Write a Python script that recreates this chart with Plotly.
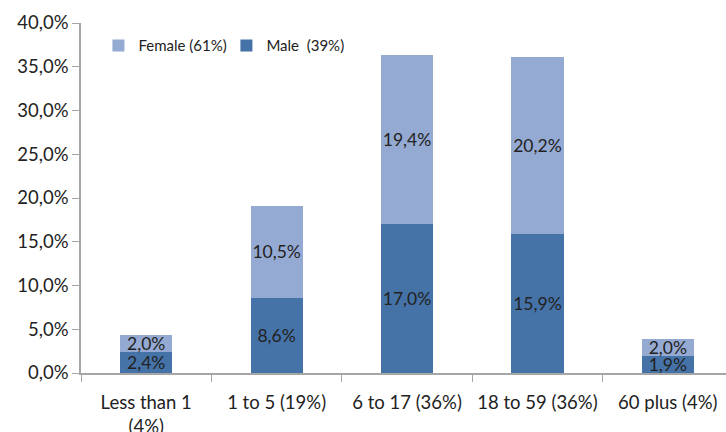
import plotly.graph_objects as go

categories = ["Less than 1<br>(4%)", "1 to 5 (19%)", "6 to 17 (36%)", "18 to 59 (36%)", "60 plus (4%)"]
male = [2.4, 8.6, 17.0, 15.9, 1.9]
female = [2.0, 10.5, 19.4, 20.2, 2.0]
tick_vals = [0, 5, 10, 15, 20, 25, 30, 35, 40]
tick_text = ["0,0%", "5,0%", "10,0%", "15,0%", "20,0%", "25,0%", "30,0%", "35,0%", "40,0%"]

def fmt(v):
    return f"{v:.1f}".replace(".", ",") + "%"

FONT = "Lato, 'Open Sans', sans-serif"
TXT = "#222222"

fig = go.Figure()
fig.add_trace(go.Bar(
    x=categories, y=male, name="Male  (39%)",
    marker=dict(color="#4572A7", line=dict(width=0)),
    text=[fmt(v) for v in male], textposition="inside", insidetextanchor="middle",
    textangle=0, constraintext="none",
    textfont=dict(family=FONT, size=17.5, color=TXT),
    legendrank=2, width=0.4,
))
fig.add_trace(go.Bar(
    x=categories, y=female, name="Female (61%)",
    marker=dict(color="#95AAD2", line=dict(width=0)),
    text=[fmt(v) for v in female], textposition="inside", insidetextanchor="middle",
    textangle=0, constraintext="none",
    textfont=dict(family=FONT, size=17.5, color=TXT),
    legendrank=1, width=0.4,
))

fig.update_layout(
    barmode="stack",
    width=726, height=432,
    margin=dict(l=81, r=0, t=23, b=59),
    paper_bgcolor="white", plot_bgcolor="white",
    font=dict(family=FONT, size=17, color=TXT),
    showlegend=True,
    legend=dict(orientation="h", x=0.027, y=0.982, xanchor="left", yanchor="top",
                traceorder="normal", entrywidth=83, entrywidthmode="pixels",
                font=dict(family=FONT, size=15, color=TXT),
                bgcolor="rgba(0,0,0,0)", itemwidth=30, tracegroupgap=0),
    xaxis=dict(
        type="category", range=[-0.5, 4.446], automargin=False,
        showline=True, linecolor="#A6A6A6", linewidth=1.5,
        ticks="outside", tickson="boundaries", ticklen=7, tickcolor="#A6A6A6",
        ticklabelstandoff=12,
        tickfont=dict(family=FONT, size=18.5, color=TXT),
        showgrid=False, zeroline=False,
    ),
    yaxis=dict(
        range=[0, 40], tickvals=tick_vals, ticktext=tick_text, automargin=False,
        showline=True, linecolor="#A6A6A6", linewidth=1.5,
        ticks="outside", ticklen=7, tickcolor="#A6A6A6",
        tickfont=dict(family=FONT, size=18.5, color=TXT),
        showgrid=False, zeroline=False,
    ),
)

fig.write_html("out.html", config={"displayModeBar": False},
               post_script="document.body.style.margin='0px';document.body.style.padding='0px';")
